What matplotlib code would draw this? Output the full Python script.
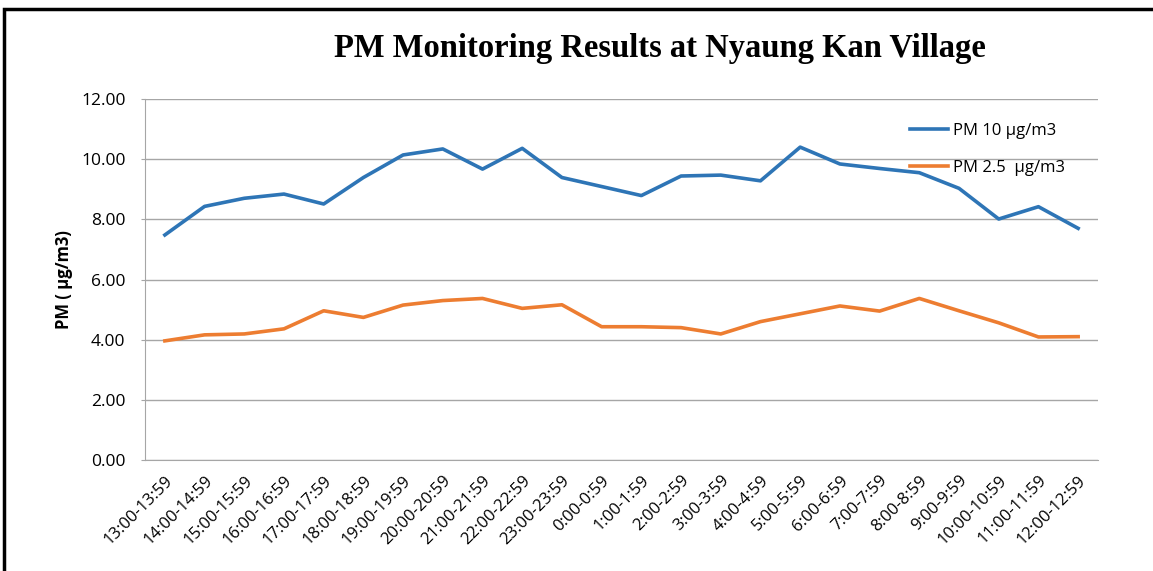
import matplotlib
matplotlib.use('Agg')
import matplotlib.pyplot as plt
from matplotlib.patches import Rectangle

periods = ['13:00-13:59', '14:00-14:59', '15:00-15:59', '16:00-16:59', '17:00-17:59',
           '18:00-18:59', '19:00-19:59', '20:00-20:59', '21:00-21:59', '22:00-22:59',
           '23:00-23:59', '0:00-0:59', '1:00-1:59', '2:00-2:59', '3:00-3:59',
           '4:00-4:59', '5:00-5:59', '6:00-6:59', '7:00-7:59', '8:00-8:59',
           '9:00-9:59', '10:00-10:59', '11:00-11:59', '12:00-12:59']

pm10 = [7.48, 8.43, 8.70, 8.84, 8.51, 9.39, 10.14, 10.34, 9.67, 10.36, 9.39, 9.09,
        8.79, 9.44, 9.47, 9.28, 10.40, 9.84, 9.69, 9.55, 9.03, 8.01, 8.42, 7.70]
pm25 = [3.96, 4.16, 4.19, 4.36, 4.96, 4.74, 5.15, 5.30, 5.37, 5.04, 5.16, 4.43,
        4.43, 4.40, 4.19, 4.60, 4.86, 5.12, 4.95, 5.37, 4.96, 4.56, 4.09, 4.10]

def main():
    fig = plt.figure(figsize=(11.53, 5.71), dpi=100)
    ax = fig.add_axes([145 / 1153, 1 - 460 / 571, (1098 - 145) / 1153, (460 - 99) / 571])

    x = range(len(periods))
    ax.plot(x, pm10, color='#2E75B6', lw=2.6, label='PM 10 µg/m3')
    ax.plot(x, pm25, color='#ED7D31', lw=2.6, label='PM 2.5  µg/m3')

    ax.set_xlim(-0.5, len(periods) - 0.5)
    ax.set_ylim(0, 12)
    ax.set_yticks([0, 2, 4, 6, 8, 10, 12])
    ax.set_yticklabels([f'{v:.2f}' for v in [0, 2, 4, 6, 8, 10, 12]],
                       fontsize=12.5, family='Open Sans')
    ax.set_xticks(list(x))
    ax.set_xticklabels(periods, rotation=45, ha='right', rotation_mode='anchor',
                       fontsize=12, family='Open Sans')
    ax.tick_params(axis='x', length=0, pad=9)
    ax.tick_params(axis='y', length=3, color='#A6A6A6', pad=11)
    ax.grid(axis='y', color='#A6A6A6', lw=1)
    ax.set_axisbelow(True)
    for s in ['top', 'right']:
        ax.spines[s].set_visible(False)
    for s in ['left', 'bottom']:
        ax.spines[s].set_color('#A6A6A6')

    ax.set_ylabel('PM ( µg/m3)', fontsize=12, fontweight='bold', family='Open Sans', labelpad=6)

    ax.legend(loc='upper left', bbox_to_anchor=(0.787, 0.975), frameon=False,
              prop={'family': 'Open Sans', 'size': 12}, handlelength=2.3,
              handletextpad=0.3, labelspacing=1.25)

    fig.text(660 / 1153, 1 - 48 / 571, 'PM Monitoring Results at Nyaung Kan Village',
             ha='center', va='center', fontsize=23.5, fontweight='bold', family='Liberation Serif')

    fig.patches.append(Rectangle((4 / 1153, -0.1), 1.2, 1 - 9 / 571 + 0.1, transform=fig.transFigure,
                                 fill=False, edgecolor='black', lw=2.5))

    fig.savefig('out.png', dpi=100)

if __name__ == '__main__':
    main()
